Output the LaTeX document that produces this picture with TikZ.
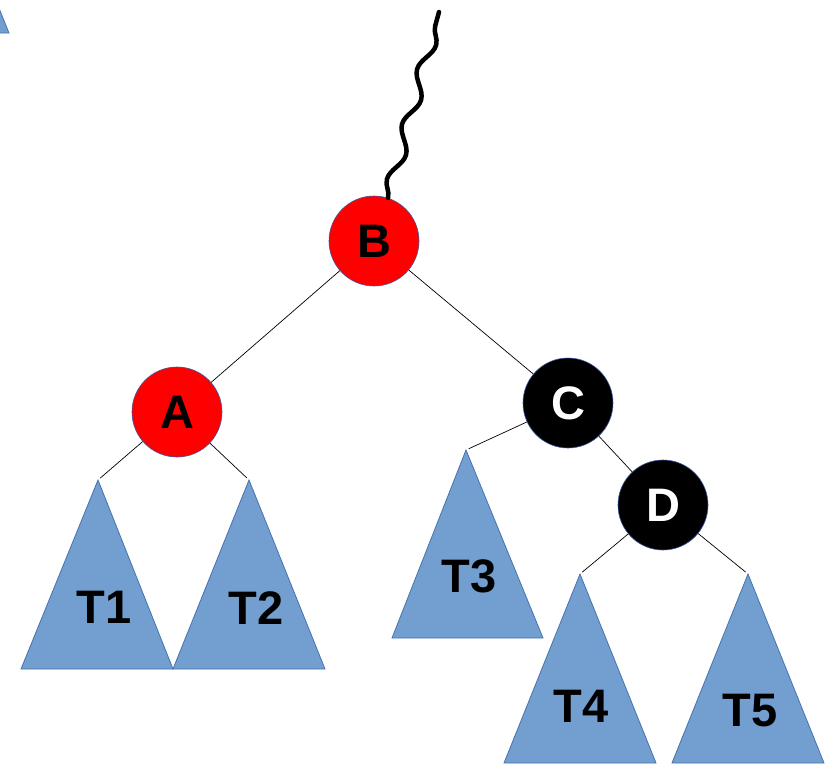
\documentclass[tikz,border=0pt]{standalone}
\usepackage{fontspec}
\setmainfont{Liberation Sans}
\usetikzlibrary{decorations.pathmorphing}
\definecolor{trifill}{RGB}{114,159,207}
\definecolor{triedge}{RGB}{70,114,175}
\definecolor{nodeedge}{RGB}{60,90,160}
\begin{document}
\begin{tikzpicture}[x=1pt,y=-1pt,
  treenode/.style={circle, minimum size=90pt, inner sep=0pt, draw=nodeedge, line width=0.6pt,
    font=\fontsize{47}{50}\selectfont\bfseries},
  rednode/.style={treenode, fill=red, text=black},
  blacknode/.style={treenode, fill=black, text=white},
  subtree/.style={fill=trifill, draw=triedge, line width=0.8pt, line join=miter},
  tlabel/.style={font=\fontsize{47}{50}\selectfont\bfseries, text=black, inner sep=0pt},
  edge/.style={draw=black, line width=0.7pt, shorten >=3pt},
  wavy/.style={draw=black, line width=4.5pt, line cap=round, decorate,
    decoration={snake, segment length=57pt, amplitude=6pt}}]
\clip (0,0) rectangle (826,771);
% partial triangle at the top left
\fill[subtree] (-67,-156) -- (9,33) -- (-143,33) -- cycle;
% apex coordinates of subtrees
\coordinate (a1) at (98,480);
\coordinate (a2) at (249,480);
\coordinate (a3) at (466,450);
\coordinate (a4) at (580,574);
\coordinate (a5) at (748,574);
\coordinate (top) at (439,12);
% subtrees
\path[subtree] (a1) -- (173,669) -- (21,669) -- cycle;
\path[subtree] (a2) -- (325,669) -- (173,669) -- cycle;
\path[subtree] (a3) -- (543,638) -- (392,638) -- cycle;
\path[subtree] (a4) -- (656,763) -- (504,763) -- cycle;
\path[subtree] (a5) -- (824,763) -- (672,763) -- cycle;
\node[tlabel] (t1) at (104,607) {T1};
\node[tlabel] (t2) at (256,608) {T2};
\node[tlabel] (t3) at (469,576) {T3};
\node[tlabel] (t4) at (581,706) {T4};
\node[tlabel] (t5) at (750,711) {T5};
% tree nodes
\node[rednode] (B) at (374,241) {B};
\node[rednode] (A) at (177,412) {A};
\node[blacknode] (C) at (568,403) {C};
\node[blacknode] (D) at (663,505) {D};
% connectors
\draw[edge, shorten >=0pt] (B) -- (A);
\draw[edge, shorten >=0pt] (B) -- (C);
\draw[edge, shorten >=0pt] (C) -- (D);
\draw[edge] (A) -- (a1);
\draw[edge] (A) -- (a2);
\draw[edge] (C) -- (a3);
\draw[edge] (D) -- (a4);
\draw[edge] (D) -- (a5);
\draw[wavy] (B.72) -- (top);
\end{tikzpicture}
\end{document}
